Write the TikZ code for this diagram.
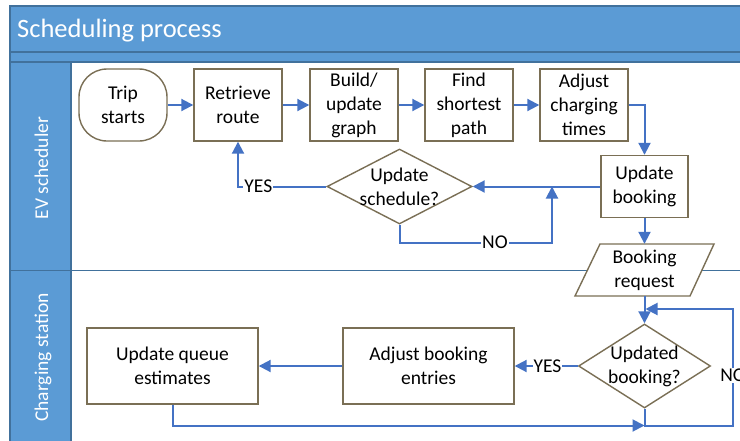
\documentclass[tikz,border=0pt]{standalone}
\usepackage{fontspec}
\setmainfont{Carlito}
\usetikzlibrary{arrows.meta,shapes.geometric,calc}
\definecolor{lanefill}{HTML}{5B9BD5}
\definecolor{laneline}{HTML}{41719C}
\definecolor{flow}{HTML}{4472C4}
\definecolor{shapeline}{HTML}{7A6F55}
\tikzset{
  every node/.style={font=\fontsize{19.5}{24}\selectfont},
  outline/.style={draw=shapeline, line width=1.4pt, fill=white},
  stepbox/.style={outline, align=center, inner sep=0pt,
    minimum width=88pt, minimum height=72pt},
  widebox/.style={outline, align=center, inner sep=0pt,
    minimum width=171pt, minimum height=76pt},
  decision/.style={outline, diamond, inner sep=0pt},
  plain/.style={align=center, inner sep=0pt},
  flowline/.style={draw=flow, line width=2pt},
  flowarrow/.style={flowline, -{Triangle[length=12pt,width=12pt]}},
  lbl/.style={fill=white, inner sep=1pt},
  lanetext/.style={text=white, inner sep=0pt, rotate=90, anchor=base},
}
\begin{document}
\begin{tikzpicture}[x=1pt,y=-1pt]
\useasboundingbox (0,0) rectangle (740,440);
\fill[white] (0,0) rectangle (740,440);

% swimlane frame
\draw[laneline, line width=1.5pt, fill=lanefill] (10,6) rectangle (770,52);
\draw[laneline, line width=1.2pt, fill=lanefill] (10,52) rectangle (770,62);
\draw[laneline, line width=1.2pt, fill=lanefill] (10,62) rectangle (71,480);
\draw[laneline, line width=1pt] (10,270) -- (770,270);

\node[anchor=base west, text=white, inner sep=0pt,
      font=\fontsize{26.5}{30}\selectfont] (title) at (17,37.7) {Scheduling process};
\node[lanetext] (laneev) at (48,168) {EV scheduler};
\node[lanetext] (lanecs) at (48,357.5) {Charging station};

% EV scheduler lane
\node[stepbox, rounded corners=28pt] (trip) at (123,105) {Trip\\starts};
\node[stepbox] (retrieve) at (238,105) {Retrieve\\route};
\node[stepbox] (build) at (354,105) {Build/\\update\\graph};
\node[stepbox] (find) at (469,105) {Find\\shortest\\path};
\node[stepbox] (adjust) at (584,105) {Adjust\\charging\\times};
\node[stepbox, minimum width=87pt, minimum height=62pt] (upbook) at (644.5,186.5) {Update\\booking};
\node[decision, minimum width=145pt, minimum height=75pt,
      label={[plain]center:Update\\schedule?}] (sched) at (399.5,186.5) {};

% booking request (parallelogram)
\coordinate (brc) at (644.5,270);
\draw[outline] ($(brc)+(-44.5,-26)$) -- ($(brc)+(69.5,-26)$)
  -- ($(brc)+(45.5,26)$) -- ($(brc)+(-69.5,26)$) -- cycle;
\node[plain, minimum width=114pt, minimum height=52pt] (bookreq) at (brc) {Booking\\request};

% charging station lane
\node[decision, minimum width=132pt, minimum height=84pt,
      label={[plain]center:Updated\\booking?}] (updbook) at (644.5,366) {};
\node[widebox] (adjbook) at (428.5,366) {Adjust booking\\entries};
\node[widebox] (queue) at (172.5,366) {Update queue\\estimates};

% connectors
\draw[flowarrow] (trip) -- (retrieve);
\draw[flowarrow] (retrieve) -- (build);
\draw[flowarrow] (build) -- (find);
\draw[flowarrow] (find) -- (adjust);
\draw[flowarrow] (adjust.east) -| (upbook.north);
\draw[flowarrow] (upbook.west) -- (sched.east);
\draw[flowarrow] (sched.west) -- node[lbl, pos=0.77] {YES}
  (sched.west -| retrieve.south) -- (retrieve.south);
\coordinate (nojoin) at (552,186.5);
\draw[flowarrow] (sched.south) -- ++(0,18) -| node[lbl, pos=0.313] {NO} (nojoin);
\draw[flowarrow] (upbook) -- (bookreq);
\draw[flowarrow] (bookreq) -- (updbook);

\coordinate (loopbot) at (644.5,425.5);
\coordinate (reentry) at (645.5,309);
\draw[flowarrow] (updbook.south) -- (loopbot) -- (733,425.5)
  -- node[lbl, pos=0.43] {NO} (733,309) -- (reentry);
\draw[flowarrow] (queue.south) |- (loopbot);
\draw[flowarrow] (updbook.west) -- node[lbl, pos=0.48] {YES} (adjbook.east);
\draw[flowarrow] (adjbook) -- (queue);
\end{tikzpicture}
\end{document}
